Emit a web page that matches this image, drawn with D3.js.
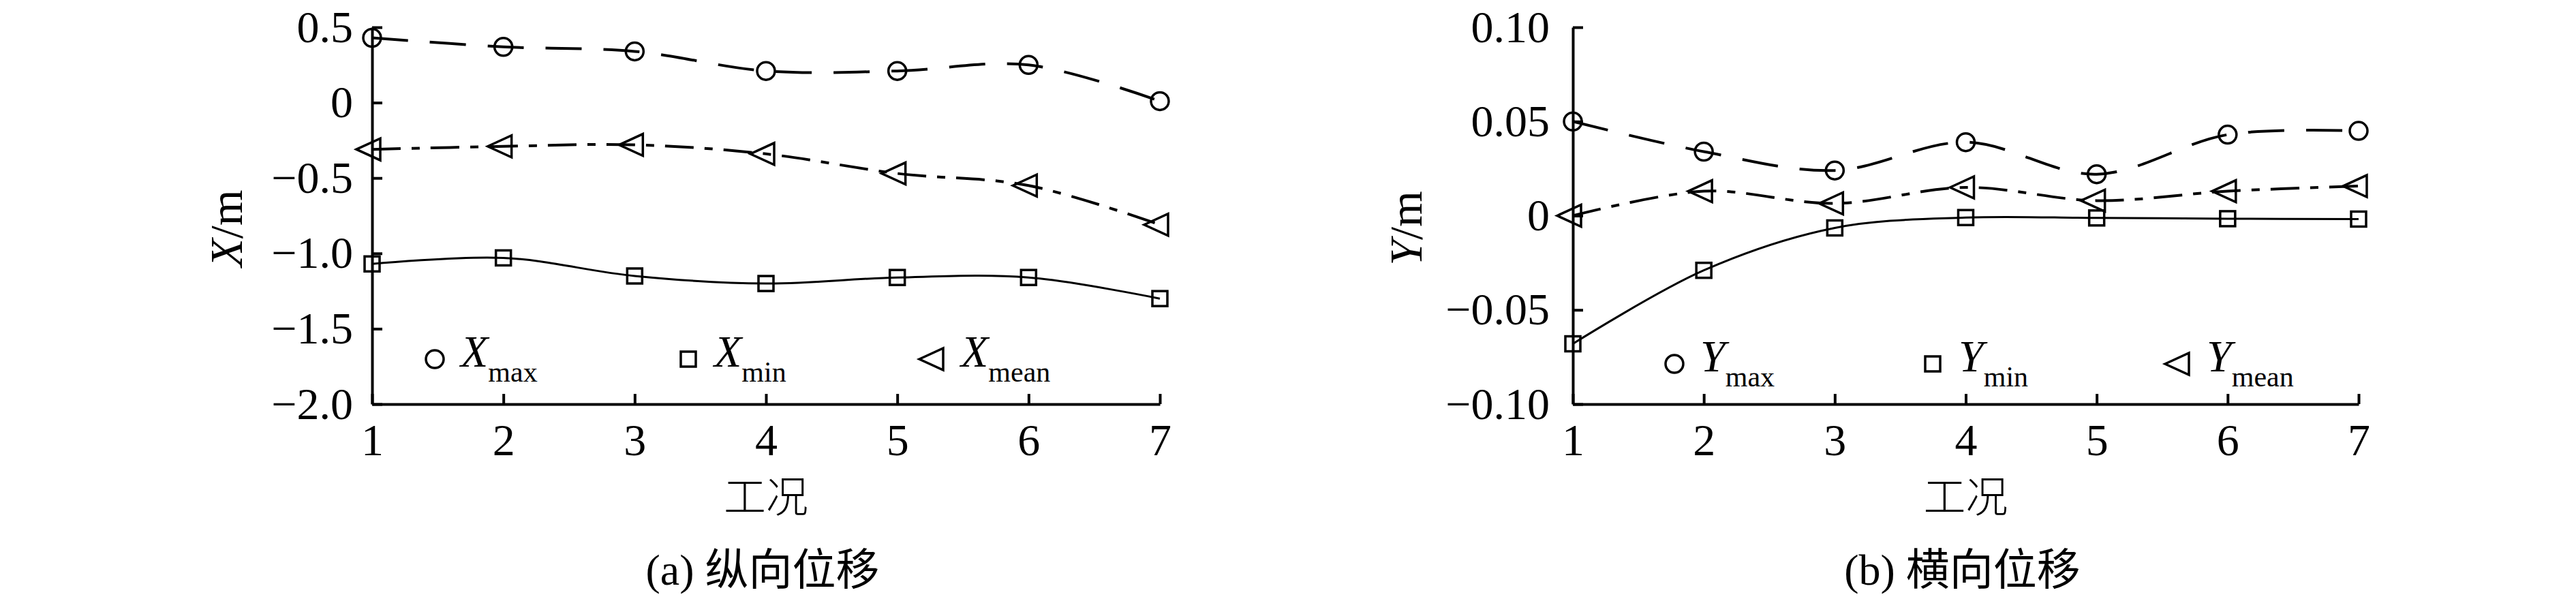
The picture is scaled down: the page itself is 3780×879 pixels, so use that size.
<!DOCTYPE html>
<html>
<head>
<meta charset="utf-8">
<script src="https://cdn.jsdelivr.net/npm/d3@7"></script>
<style>
  body { margin: 0; background: #fff; }
  svg { display: block; }
  text { font-family: "Liberation Serif", "Times New Roman", "Noto Sans CJK SC", serif; fill: #000; }
</style>
</head>
<body>
<svg id="chart" width="3780" height="879"></svg>
<script>
'use strict'

// working conditions (x axis)
const cases = [1, 2, 3, 4, 5, 6, 7]

// (a) longitudinal displacement, m
const xMax = [0.43, 0.37, 0.34, 0.21, 0.21, 0.25, 0.01]
const xMean = [-0.31, -0.29, -0.28, -0.34, -0.47, -0.55, -0.81]
const xMin = [-1.07, -1.03, -1.15, -1.20, -1.16, -1.16, -1.30]
const xTicks = [0.5, 0, -0.5, -1.0, -1.5, -2.0]
const xTickLabels = ['0.5', '0', '\u22120.5', '\u22121.0', '\u22121.5', '\u22122.0']

// (b) lateral displacement, m
const yMax = [0.050, 0.034, 0.024, 0.039, 0.022, 0.043, 0.045]
const yMean = [0.000, 0.013, 0.0065, 0.015, 0.008, 0.013, 0.0157]
const yMin = [-0.068, -0.029, -0.0065, -0.001, -0.0012, -0.0016, -0.0018]
const yTicks = [0.10, 0.05, 0, -0.05, -0.10]
const yTickLabels = ['0.10', '0.05', '0', '\u22120.05', '\u22120.10']

const serif = '"Liberation Serif", "Times New Roman", serif'
const svg = d3.select('#chart')

// marker shapes
function drawMarker(g, kind, cx, cy) {
    if (kind === 'circle') {
        g.append('circle').attr('cx', cx).attr('cy', cy).attr('r', 13)
    } else if (kind === 'square') {
        g.append('rect').attr('x', cx - 11).attr('y', cy - 11).attr('width', 22).attr('height', 22)
    } else {
        g.append('path').attr('d', `M${cx - 23},${cy} L${cx + 12},${cy - 16} L${cx + 12},${cy + 16} Z`)
    }
}

function panel(opt) {
    const x = d3.scaleLinear().domain([1, 7]).range([opt.left, opt.right])
    const y = d3.scaleLinear().domain(opt.domain).range([593, 40])
    const g = svg.append('g')

    // axes, ticks inside
    g.append('g')
        .attr('transform', `translate(${opt.left},0)`)
        .call(d3.axisLeft(y).tickValues(opt.ticks)
            .tickFormat((d, i) => opt.tickLabels[i])
            .tickSizeInner(-15).tickSizeOuter(0).tickPadding(opt.pad))
        .attr('font-family', serif).attr('font-size', 66)
    g.append('g')
        .attr('transform', 'translate(0,593)')
        .call(d3.axisBottom(x).tickValues(cases)
            .tickFormat(d3.format('d'))
            .tickSizeInner(-15).tickSizeOuter(0).tickPadding(28))
        .attr('font-family', serif).attr('font-size', 66)
    g.selectAll('.domain, .tick line').attr('stroke', '#000').attr('stroke-width', 4)
    g.selectAll('.tick text').attr('fill', '#000').style('font-family', serif)

    // series lines
    const line = d3.line()
        .x((d, i) => x(cases[i]))
        .y(d => y(d))
        .curve(d3.curveCatmullRom.alpha(0.5))
    opt.series.forEach(s => {
        g.append('path')
            .datum(s.values)
            .attr('fill', 'none')
            .attr('stroke', '#000')
            .attr('stroke-width', s.dash ? 4 : 3)
            .attr('stroke-dasharray', s.dash || null)
            .attr('d', line)
        const mg = g.append('g').attr('fill', 'none').attr('stroke', '#000').attr('stroke-width', 3.5)
        s.values.forEach((v, i) => drawMarker(mg, s.marker, x(cases[i]), y(v)))
    })

    // legend
    opt.series.forEach((s, i) => {
        const lx = opt.legendX[i]
        const mg = g.append('g').attr('fill', 'none').attr('stroke', '#000').attr('stroke-width', 3.5)
        drawMarker(mg, s.marker, lx, opt.legendY)
        const t = g.append('text')
            .attr('x', lx + 38)
            .attr('y', opt.legendY + 11)
            .attr('font-size', 66)
        t.append('tspan').attr('font-style', 'italic').text(opt.sym)
        t.append('tspan').attr('font-size', 42).attr('dy', 22).text(s.sub)
    })

    // axis titles
    const cx = (opt.left + opt.right) / 2
    const yt = g.append('text')
        .attr('transform', `translate(${opt.titleX},335) rotate(-90)`)
        .attr('text-anchor', 'middle')
        .attr('font-size', 68)
    yt.append('tspan').attr('font-style', 'italic').text(opt.sym)
    yt.append('tspan').text('/m')

    g.append('text')
        .attr('x', cx).attr('y', 752)
        .attr('text-anchor', 'middle')
        .attr('font-size', 62)
        .style('font-family', '"Noto Sans CJK SC", sans-serif')
        .style('font-weight', 300)
        .text('工况')

    g.append('text')
        .attr('x', cx - 5).attr('y', 858)
        .attr('text-anchor', 'middle')
        .attr('font-size', 64)
        .text(opt.caption)
}

panel({
    left: 546, right: 1702,
    domain: [-2.0, 0.5],
    ticks: xTicks, tickLabels: xTickLabels, pad: 28,
    sym: 'X', titleX: 355,
    legendX: [638, 1010, 1372], legendY: 527,
    caption: '(a) 纵向位移',
    series: [
        { values: xMax, marker: 'circle', dash: '53,32', sub: 'max' },
        { values: xMin, marker: 'square', dash: null, sub: 'min' },
        { values: xMean, marker: 'triangle', dash: '42,16,12,16', sub: 'mean' }
    ]
})

panel({
    left: 2308, right: 3461,
    domain: [-0.10, 0.10],
    ticks: yTicks, tickLabels: yTickLabels, pad: 34,
    sym: 'Y', titleX: 2086,
    legendX: [2457, 2836, 3200], legendY: 534,
    caption: '(b) 横向位移',
    series: [
        { values: yMax, marker: 'circle', dash: '53,32', sub: 'max' },
        { values: yMin, marker: 'square', dash: null, sub: 'min' },
        { values: yMean, marker: 'triangle', dash: '42,16,12,16', sub: 'mean' }
    ]
})
</script>
</body>
</html>
